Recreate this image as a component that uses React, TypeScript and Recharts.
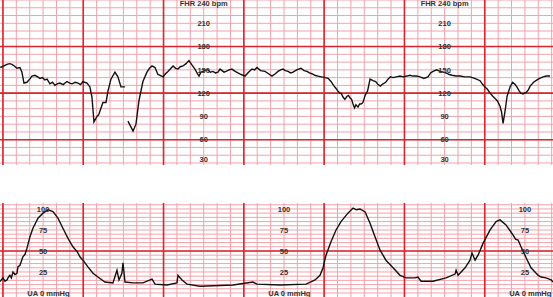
import { LineChart, Line, XAxis, YAxis, ReferenceLine, ReferenceDot } from "recharts";

// time axis in seconds, one major line per minute, minor line every 10 s
const timeDomain: [number, number] = [-2.2, 411];
const minorTimes = Array.from({ length: 42 }, (_, i) => i * 10);
const majorTimes = [0, 60, 120, 180, 240, 300, 360];

// fetal heart rate (bpm), null = signal loss
const fhrSeconds = [
  -2, 0.7, 3, 5, 6.7, 8.5, 10.5, 12.7, 14.2, 15.7, 17.9, 20, 21.7, 23.9, 26, 27.7, 29.5, 31.4, 33, 35.1,
  37, 38.9, 40.5, 42.6, 45, 47.8, 50, 51.6, 54, 56.1, 58, 59.8, 61, 62.8, 65, 66.5, 68, 70.3, 71.5, 72.5,
  74.7, 77, 78.5, 80.7, 83.7, 85.9, 88.2, 91.2, 92.3, 93.4, 97.2, 99.4, 101.6, 104.6, 107.6, 109.5,
  111.4, 113.6, 115.8, 117.5, 119.6, 121.5, 123.3, 125, 127.1, 129, 130.8, 132.5, 134.5, 136.8, 139,
  141.3, 143.5, 145, 146.5, 148, 149.5, 151.5, 153.2, 155, 156.9, 158.8, 160.7, 162.2, 163.7, 165.2,
  166.7, 169, 171.1, 173.5, 175.6, 178, 180.9, 183.5, 186.1, 188, 189.8, 192.5, 195.8, 198.5, 201,
  203.5, 205.5, 207.5, 209.3, 211, 213, 215, 216.7, 219.5, 222.7, 225, 227.2, 229, 230.9, 233, 235.4,
  238, 240.7, 243, 245.1, 247, 248.9, 250.5, 251.9, 253, 254.1, 255.5, 257.1, 258.2, 259.3, 260.5,
  261.6, 262.7, 263.8, 265.3, 266.5, 267.6, 269, 270.6, 272.5, 274.3, 276.5, 278.5, 280.3, 282, 284,
  286, 287.7, 289.5, 291.5, 294, 296.7, 299, 301.9, 304, 306.4, 309, 311.7, 314.5, 317.6, 319.5,
  321.4, 324, 326.6, 329, 331.1, 333.5, 335.6, 338.5, 341.6, 345, 349, 352.5, 356.5, 358.5, 360.2,
  362, 364, 366, 367.7, 369.5, 371.4, 372.5, 373.7, 375.2, 376.7, 378.9, 380.8, 382.7, 384, 385.7,
  387, 388.6, 390.9, 392.5, 393.9, 396.5, 399.1, 401, 403.6, 406, 408.8, 411.1,
];
const fhrBpm = [
  153, 155, 157, 158, 157, 155, 152, 153, 147, 133, 134, 138, 142, 143, 141, 139, 140, 137, 138, 132,
  134, 130, 132, 133, 131, 135, 133, 132, 134, 133, 131, 135, 134, 133, 128, 115, 83, 90, 92, 97,
  108, 108, 123, 138, 147, 141, 128, 128, null, 84, 71, 80, 110, 135, 147, 152,
  155, 153, 144, 143, 141, 145, 148, 151, 155, 152, 151, 154, 155, 158, 162,
  156, 151, 146, 142, 147, 148, 150, 150, 147, 148, 146, 147, 151, 149, 147,
  148, 150, 151, 148, 146, 144, 142, 147, 151, 150, 153, 149, 148, 145, 142,
  145, 148, 150, 151, 149, 148, 146, 147, 150, 152, 149, 148, 146, 145, 143,
  142, 141, 140, 139, 135, 130, 126, 122, 120, 119, 115, 112, 116, 117, 114,
  112, 106, 101, 105, 102, 106, 106, 108, 117, 123, 138, 136, 135, 131, 129,
  132, 134, 138, 141, 140, 141, 142, 141, 142, 143, 142, 142, 141, 139, 141,
  146, 148, 150, 148, 147, 146, 144, 143, 142, 142, 141, 141, 139, 136, 131,
  128, 125, 120, 116, 113, 110, 103, 96, 81, 97, 116, 128, 134, 131, 128,
  123, 120, 119, 121, 124, 129, 134, 137, 139, 141, 142, 142,
];

// uterine activity (mmHg)
const uaSeconds = [
  -2.2, 0, 1.5, 3, 4.2, 5.2, 6.3, 7.5, 9, 10.5, 11.2, 12.7, 14.9, 16.5, 17.9, 20.2, 22.4, 26.2, 29.9,
  33.6, 37.4, 41.1, 44.8, 48.6, 52.3, 55, 56.1, 57.5, 59.8, 63.5, 67.3, 71, 76.2, 82.2, 85.2, 86.7,
  88.9, 89.7, 91.2, 97.2, 104.6, 111.4, 113.6, 122.6, 130, 130.8, 133.8, 137.5, 147.2, 171.9, 186.8,
  189.8, 207, 226.5, 233.2, 236.9, 239.2, 241.4, 245.1, 248.9, 252.6, 257.8, 261.6, 264, 266.8,
  270.6, 274.3, 278, 281.8, 286.2, 291.5, 296.7, 301.2, 307.9, 310.1, 312.4, 321.4, 331.1, 337.8,
  338.6, 340.1, 345.3, 349, 350.5, 352.8, 355, 358.7, 364, 368.5, 371.4, 375.9, 381.1, 383, 384.9,
  387.1, 390.9, 394.6, 398.4, 400, 402.1, 405.8, 409.6, 411.1,
];
const uaMmHg = [
  13.5, 18, 14, 15.5, 19, 21, 18, 25, 22, 23.5, 31, 33, 43, 46, 53, 67, 77, 89, 95,
  99, 97, 89, 77, 65, 55, 50, 47.5, 43, 39, 31, 23.5, 19, 13, 12, 27, 15.5,
  23.5, 36, 13, 12, 12, 16.5, 10.5, 9.5, 12, 21, 15.5, 10.5, 8, 9.5, 13,
  10.5, 9.5, 10.5, 15.5, 21, 30, 45, 61, 75, 85, 95, 101, 99, 100,
  96.5, 83, 67, 51, 39, 30, 21, 18, 18, 19, 14, 14, 18, 22.5,
  27, 21, 30, 39, 47.5, 39, 45, 59, 75, 85, 87, 81, 69, 64, 63,
  55, 42, 30, 23.5, 21, 19, 18, 15.5, 13,
];

const fhrMinor = Array.from({ length: 22 }, (_, i) => 30 + i * 10);
const fhrMajor = [60, 120, 180];
const fhrLabels = [210, 180, 150, 120, 90, 60, 30];
const fhrLabelTimes = [150, 330];

const uaMinor = Array.from({ length: 22 }, (_, i) => i * 5);
const uaMajor = [50];
const uaLabels = [100, 75, 50, 25];
const uaLabelTimes = [30, 210, 390];

const fhrData = fhrSeconds.map((t, i) => ({ t, v: fhrBpm[i] }));
const uaData = uaSeconds.map((t, i) => ({ t, v: uaMmHg[i] }));

const MINOR = "#f3a2aa";
const MAJOR = "#d8262e";
const FONT = "'Liberation Sans', Arial, sans-serif";

const labelStyle = (value: string) => ({
  value,
  position: "center" as const,
  fontSize: 7.5,
  fontFamily: FONT,
  fontWeight: 600,
  fill: "#333",
});

function Grid(hMinor: number[], hMajor: number[]) {
  return [
    ...minorTimes.map((x) => <ReferenceLine key={"vm" + x} x={x} stroke={MINOR} strokeWidth={1} />),
    ...hMinor.map((y) => <ReferenceLine key={"hm" + y} y={y} stroke={MINOR} strokeWidth={1} />),
    ...hMajor.map((y) => <ReferenceLine key={"hM" + y} y={y} stroke={MAJOR} strokeWidth={1.6} />),
    ...majorTimes.map((x) => <ReferenceLine key={"vM" + x} x={x} stroke={MAJOR} strokeWidth={1.6} />),
  ];
}

export default function App() {
  return (
    <div style={{ position: "absolute", left: 0, top: 0, width: 553, height: 297, background: "#fff" }}>
      <LineChart width={553} height={165} data={fhrData} margin={{ top: 0, right: 0, bottom: 0, left: 0 }}>
        <XAxis dataKey="t" type="number" domain={timeDomain} hide allowDataOverflow />
        <YAxis type="number" domain={[27.4, 240]} hide allowDataOverflow />
        {Grid(fhrMinor, fhrMajor)}
        {fhrLabelTimes.map((x) => (
          <ReferenceDot key={"t" + x} x={x} y={235.5} r={0} stroke="none" label={labelStyle("FHR 240 bpm")} />
        ))}
        {fhrLabelTimes.flatMap((x) =>
          fhrLabels.map((v) => (
            // the bottom label sits a little above its line so it stays on the strip
            <ReferenceDot key={x + "-" + v} x={x} y={Math.max(v, 35)} r={0} stroke="none" label={labelStyle(String(v))} />
          ))
        )}
        <Line dataKey="v" type="linear" stroke="#111" strokeWidth={1.4} dot={false} activeDot={false} isAnimationActive={false} />
      </LineChart>
      <div style={{ position: "absolute", left: 0, top: 203 }}>
        <LineChart width={553} height={94} data={uaData} margin={{ top: 0, right: 0, bottom: 0, left: 0 }}>
          <XAxis dataKey="t" type="number" domain={timeDomain} hide allowDataOverflow />
          <YAxis type="number" domain={[-4.8, 107.1]} hide allowDataOverflow />
          {Grid(uaMinor, uaMajor)}
          {uaLabelTimes.flatMap((x) =>
            uaLabels.map((v) => (
              <ReferenceDot key={x + "-" + v} x={x} y={v} r={0} stroke="none" label={labelStyle(String(v))} />
            ))
          )}
          {uaLabelTimes.map((x) => (
            <ReferenceDot key={"u" + x} x={x + 4} y={0} r={0} stroke="none" label={labelStyle("UA 0 mmHg")} />
          ))}
          <Line dataKey="v" type="linear" stroke="#111" strokeWidth={1.4} dot={false} activeDot={false} isAnimationActive={false} />
        </LineChart>
      </div>
    </div>
  );
}
